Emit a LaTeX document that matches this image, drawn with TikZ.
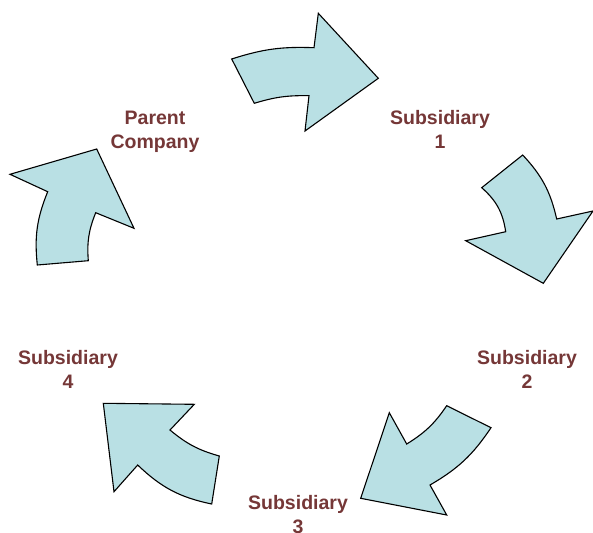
\documentclass[tikz,border=0pt]{standalone}
\usepackage{fontspec}
\setmainfont{Liberation Sans}
\definecolor{arr_blue}{RGB}{185, 224, 228}
\definecolor{lbl_red}{RGB}{117, 55, 55}
\tikzstyle{ca}=[fill=arr_blue,draw=black,line width=1.1pt,line join=miter]
\tikzstyle{lb}=[text=lbl_red,font=\fontsize{19.5}{24}\selectfont\bfseries,
  align=center,inner sep=0pt]

\begin{document}
\begin{tikzpicture}[x=1pt,y=-1pt]
            \useasboundingbox (0, 0) rectangle (593, 532);
            \node [style=lb] (1) at (155, 132) {Parent\\Company};
            \node [style=lb] (2) at (440, 129.5) {Subsidiary\\1};
            \node [style=lb] (3) at (527, 369) {Subsidiary\\2};
            \node [style=lb] (4) at (298, 515) {Subsidiary\\3};
            \node [style=lb] (5) at (68, 369) {Subsidiary\\4};
            \draw [style=ca] (231.7, 59) to [bend left=10] (314, 47.7) -- (318.3, 13.3)
              -- (378.3, 78.3) -- (305, 131) -- (309, 95.7) to [bend right=9] (254.3, 103.3) -- cycle;
            \draw [style=ca] (522.7, 155) to [bend left=15] (556.7, 219) -- (593, 211)
              -- (543.3, 283.3) -- (465.7, 240.7) -- (505.7, 231.7) to [bend right=20] (481.7, 187.7) -- cycle;
            \draw [style=ca] (491, 427.7) to [bend left=13] (430, 485) -- (446.7, 515)
              -- (360.7, 498.3) -- (389.3, 412.7) -- (406.7, 444) to [bend right=12] (446.7, 405.7) -- cycle;
            \draw [style=ca] (211.7, 504) to [bend left=16] (137.7, 465) -- (114, 491.7)
              -- (103.3, 403.3) -- (194.3, 404.3) -- (170, 430) to [bend right=12] (219.3, 456) -- cycle;
            \draw [style=ca] (37.3, 265) to [bend left=14] (47.7, 191.7) -- (10, 174.3)
              -- (96.7, 149) -- (134, 228.3) -- (95.7, 212.7) to [bend right=13] (88.3, 260.7) -- cycle;
    \end{tikzpicture}
\end{document}
